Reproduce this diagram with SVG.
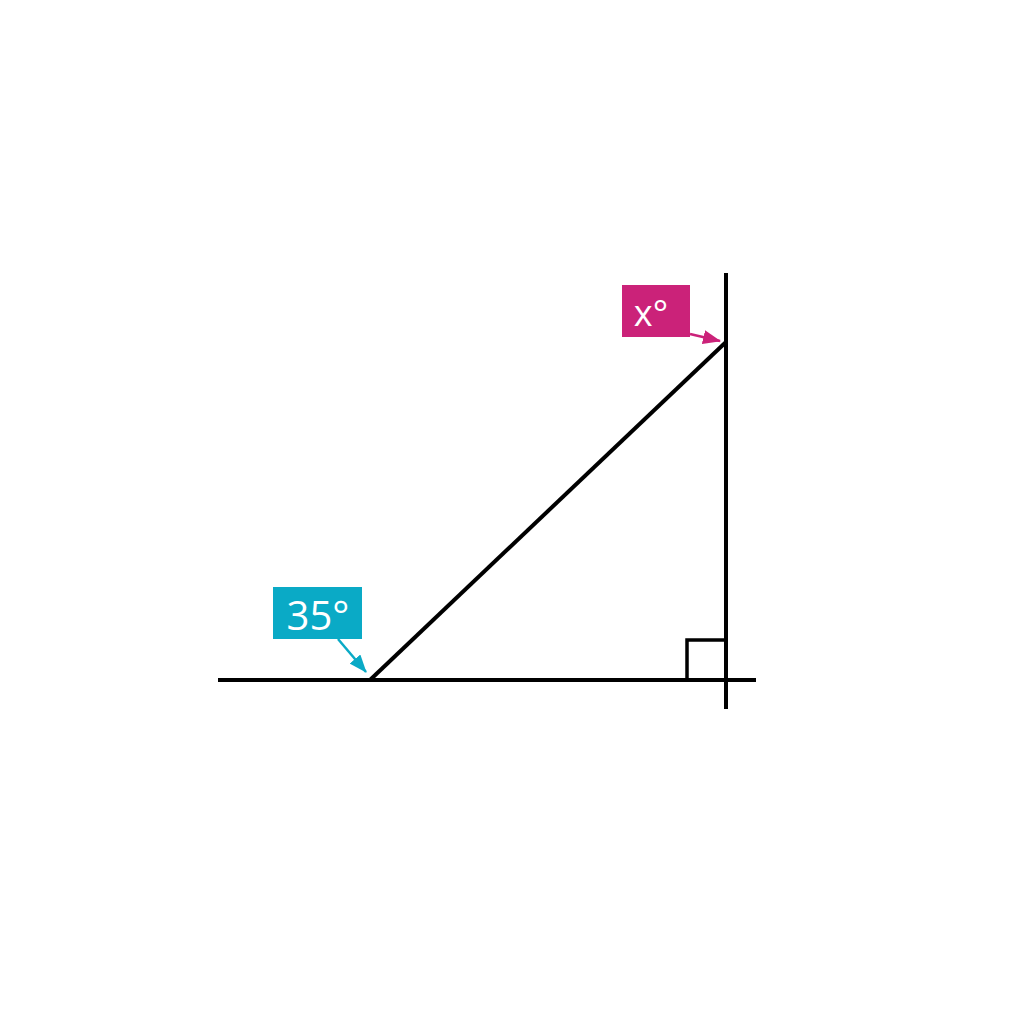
<svg xmlns="http://www.w3.org/2000/svg" width="1024" height="1024" viewBox="0 0 1024 1024">
<style>
.ln{stroke:#000;stroke-width:4;fill:none;stroke-linecap:butt}
.lbl{font-family:"Open Sans","Noto Sans",sans-serif;fill:#fff;text-anchor:middle}
</style>
<defs>
<marker id="ahm" markerWidth="18" markerHeight="14" refX="17" refY="7" orient="auto" markerUnits="userSpaceOnUse" viewBox="0 0 18 14"><path d="M0,0 L18,7 L0,14 Z" fill="#CB2279"/></marker>
<marker id="ahc" markerWidth="18" markerHeight="14" refX="17" refY="7" orient="auto" markerUnits="userSpaceOnUse" viewBox="0 0 18 14"><path d="M0,0 L18,7 L0,14 Z" fill="#0AAAC6"/></marker>
</defs>
<rect width="1024" height="1024" fill="#fff"/>
<g id="figure">
<line class="ln" x1="218" y1="680" x2="756" y2="680"/>
<line class="ln" x1="726" y1="273" x2="726" y2="709"/>
<line class="ln" x1="370" y1="680" x2="726" y2="342"/>
<path d="M687,680 V640 H726" stroke="#000" stroke-width="3.5" fill="none"/>
</g>
<g id="connectors">
<line x1="690" y1="334" x2="720" y2="341" stroke="#CB2279" stroke-width="2.5" marker-end="url(#ahm)"/>
<line x1="338" y1="639" x2="366" y2="672" stroke="#0AAAC6" stroke-width="2.5" marker-end="url(#ahc)"/>
</g>
<g id="label-x">
<rect x="622" y="285" width="68" height="52" fill="#CB2279"/>
<text class="lbl" x="651" y="326" font-size="36">x°</text>
</g>
<g id="label-35">
<rect x="273" y="587" width="89" height="52" fill="#0AAAC6"/>
<text class="lbl" x="318" y="630" font-size="40">35°</text>
</g>
</svg>
